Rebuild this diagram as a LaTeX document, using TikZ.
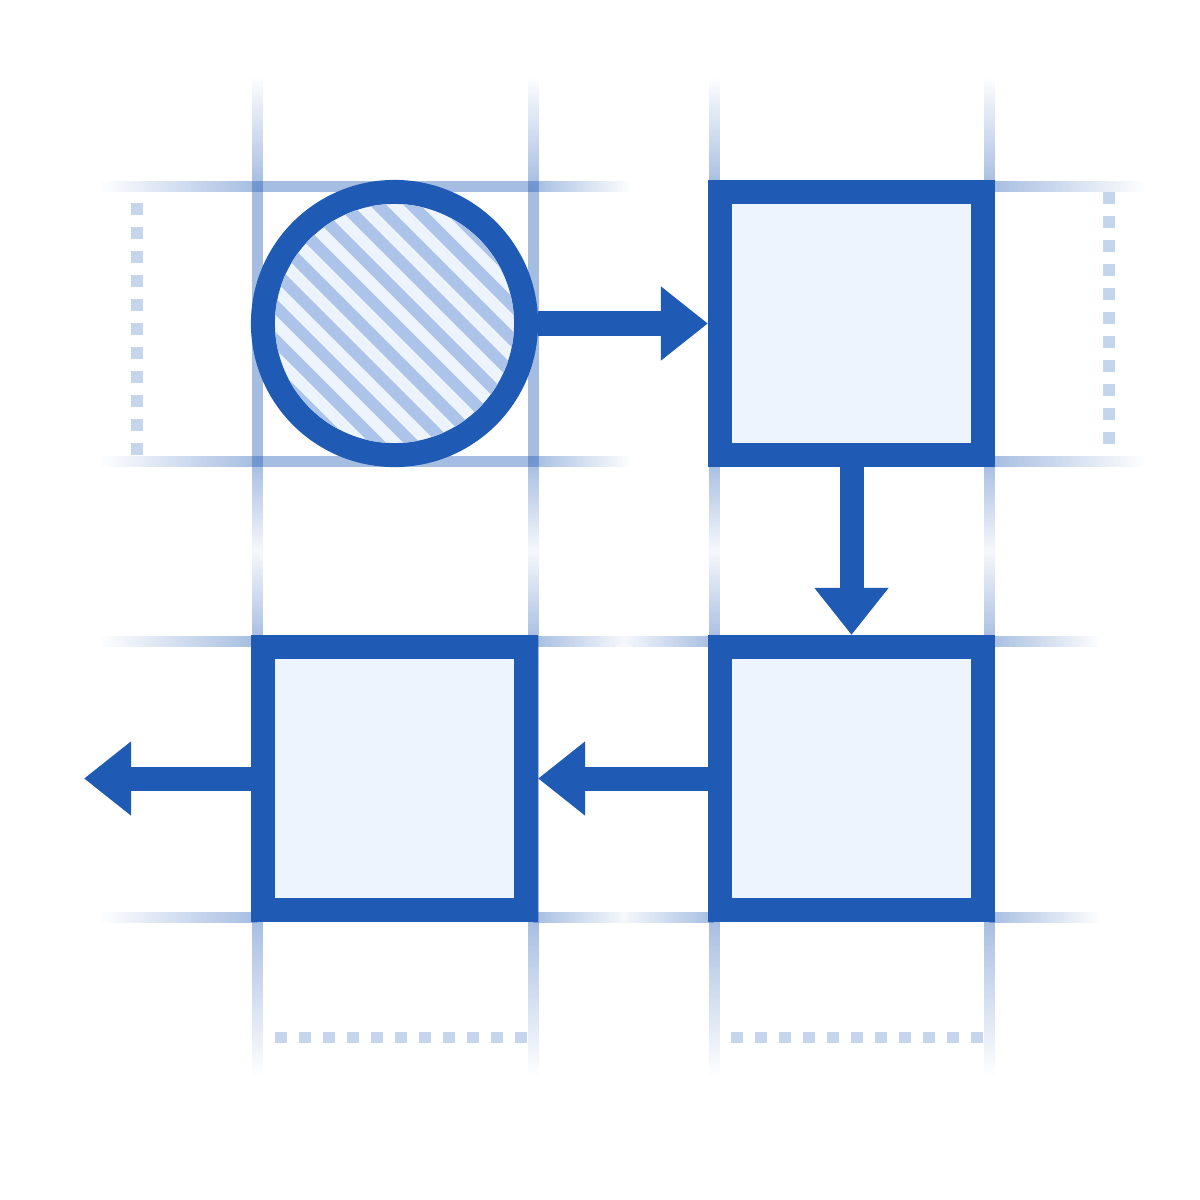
\documentclass[tikz,border=0pt]{standalone}
\usetikzlibrary{arrows.meta,fadings}
\definecolor{mainblue}{HTML}{1F5BB4}
\definecolor{lightfill}{HTML}{EEF4FD}
\definecolor{hatchblue}{HTML}{ADC4EA}
\definecolor{dotblue}{HTML}{C5D5EC}
\definecolor{gridblue}{HTML}{2A62B8}
\tikzfading[name=fin, left color=transparent!100, right color=transparent!0]
\tikzfading[name=fout, left color=transparent!0, right color=transparent!100]
\tikzfading[name=fmid, left color=transparent!0, right color=transparent!0, middle color=transparent!90]
\tikzfading[name=vin, top color=transparent!100, bottom color=transparent!0]
\tikzfading[name=vout, top color=transparent!0, bottom color=transparent!100]
\tikzfading[name=vmid, top color=transparent!0, bottom color=transparent!0, middle color=transparent!90]
\begin{document}
\begin{tikzpicture}[x=0.01cm,y=-0.01cm,
  gridline/.style={fill=gridblue, fill opacity=0.42},
  dotline/.style={draw=dotblue, line width=1.15mm, dash pattern=on 1.2mm off 1.2mm},
  shapebox/.style={rectangle, draw=mainblue, fill=lightfill, line width=2.4mm, minimum size=2.63cm, inner sep=0pt},
  shapecirc/.style={circle, draw=mainblue, fill=lightfill, line width=2.4mm, minimum size=2.63cm, inner sep=0pt},
  hatchline/.style={draw=hatchblue, line width=1.2mm},
  arr/.style={draw=mainblue, line width=2.4mm, -{Triangle[length=4.7mm,width=7.1mm]}}]
\fill[white] (0,0) rectangle (1200,1200);
\useasboundingbox (0,0) rectangle (1200,1200);
% horizontal grid lines
\foreach \y in {186,461}{
  \fill[gridline, path fading=fin] (100,\y-5.5) rectangle (257,\y+5.5);
  \fill[gridline] (257,\y-5.5) rectangle (533,\y+5.5);
  \fill[gridline, path fading=fout] (533,\y-5.5) rectangle (630,\y+5.5);
  \fill[gridline, path fading=fout] (989,\y-5.5) rectangle (1145,\y+5.5);
}
\foreach \y in {641,917}{
  \fill[gridline, path fading=fin] (100,\y-5.5) rectangle (257,\y+5.5);
  \fill[gridline, path fading=fmid] (533,\y-5.5) rectangle (714,\y+5.5);
  \fill[gridline, path fading=fout] (989,\y-5.5) rectangle (1100,\y+5.5);
}
% vertical grid lines
\foreach \x in {257,533,714,989}{
  \fill[gridline, path fading=vin] (\x-5.5,77) rectangle (\x+5.5,186);
  \fill[gridline] (\x-5.5,186) rectangle (\x+5.5,461);
  \fill[gridline, path fading=vmid] (\x-5.5,461) rectangle (\x+5.5,641);
  \fill[gridline] (\x-5.5,641) rectangle (\x+5.5,917);
  \fill[gridline, path fading=vout] (\x-5.5,917) rectangle (\x+5.5,1075);
}
% dotted guide lines
\coordinate (dl1) at (137,203); \coordinate (dl2) at (137,455);
\coordinate (dr1) at (1109,192); \coordinate (dr2) at (1109,444);
\coordinate (db1) at (275,1037.5); \coordinate (db2) at (527,1037.5);
\coordinate (dc1) at (731,1037.5); \coordinate (dc2) at (983,1037.5);
\draw[dotline] (dl1) -- (dl2);
\draw[dotline] (dr1) -- (dr2);
\draw[dotline] (db1) -- (db2);
\draw[dotline] (dc1) -- (dc2);
% shapes
\node[shapecirc] (c) at (394.5,323.5) {};
\node[shapebox] (s1) at (851.5,323.5) {};
\node[shapebox] (s2) at (851.5,778.5) {};
\node[shapebox] (s3) at (394.5,778.5) {};
\coordinate (out) at (84,778.5);
\begin{scope}
  \clip (c.center) circle [radius=1.195cm];
  \foreach \k in {-10,...,10}{
    \draw[hatchline] ({144.5+\k*34},73.5) -- ++(500,500);
  }
\end{scope}
% connectors
\draw[arr] (c.east) -- (s1.west);
\draw[arr] (s1.south) -- (s2.north);
\draw[arr] (s2.west) -- (s3.east);
\draw[arr] (s3.west) -- (out);
\end{tikzpicture}
\end{document}
